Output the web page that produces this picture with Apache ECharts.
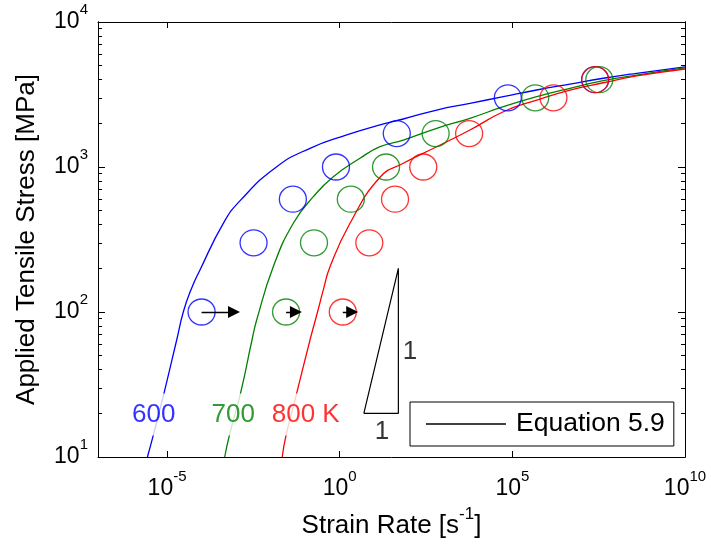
<!DOCTYPE html>
<html>
<head>
<meta charset="utf-8">
<script src="https://cdn.jsdelivr.net/npm/echarts@6/dist/echarts.min.js"></script>
<style>
html, body { margin: 0; padding: 0; background: #ffffff; }
#chart { width: 711px; height: 552px; }
</style>
</head>
<body>
<div id="chart"></div>
<script>
// Measured creep-rupture points: applied stress (MPa) vs. strain rate (1/s)
const stressLevels = [100, 300, 600, 1000, 1700, 3000, 4000];
const rate600 = [1e-4, 3.2e-3, 4.4e-2, 0.78, 45, 7.4e4, 2.5e7];
const rate700 = [2.8e-2, 0.18, 2.1, 22, 600, 4.6e5, 3.3e7];
const rate800 = [1.23, 7.2, 40, 263, 5600, 1.55e6, 2.5e7];

// Equation 5.9 curves, sampled along each temperature
const eqRate600 = [2.70e-6, 4.02e-6, 8.20e-6, 1.90e-5, 2.95e-5, 4.9e-5, 8.99e-5, 4.26e-4, 1.35e-3, 1.50e-2,
  0.138, 1.60, 14.7, 69.5, 644, 5930, 5.47e4, 5.07e5, 4.68e6, 4.31e7, 3.99e8, 1e10];
const eqStress600 = [10, 14.2, 27.7, 64.1, 100, 142, 195, 409, 591, 1005,
  1346, 1663, 1950, 2143, 2472, 2748, 3055, 3396, 3733, 4093, 4426, 4898];

const eqRate700 = [4.67e-4, 6.43e-4, 1.35e-3, 2.88e-3, 3.94e-3, 1.19e-2, 4.53e-2, 0.172, 0.652,
  3.87, 14.7, 69.5, 644, 5930, 5.47e4, 5.07e5, 4.68e6, 4.31e7, 3.99e8, 1e10];
const eqStress700 = [10, 14.2, 27.7, 64.1, 88.1, 205, 409, 624, 857,
  1148, 1380, 1535, 1849, 2168, 2606, 3055, 3491, 3936, 4305, 4819];

const eqRate800 = [2.16e-2, 2.81e-2, 5.71e-2, 0.138, 0.228, 0.335, 0.524, 1.99, 14.7, 69.5,
  644, 5930, 5.47e4, 5.07e5, 4.68e6, 4.31e7, 3.99e8, 1e10];
const eqStress800 = [10, 14.2, 27.7, 64.1, 100, 142, 205, 409, 850, 1062,
  1380, 1799, 2404, 2897, 3396, 3811, 4246, 4742];

// Arrows at 100 MPa (from data point towards higher rate)
const arrowStartRate = [1e-4, 2.8e-2, 1.23];
const arrowEndRate = [8.7e-4, 5.4e-2, 2.3];
const arrowStress = 100;

// Slope-one reference triangle
const slopeRate = [5.0, 50, 50, 5.0];
const slopeStress = [20, 20, 200, 20];
const slopeLabelRate = [108, 16.8];
const slopeLabelStress = [53, 14.9];
const slopeLabelText = ['1', '1'];

// Temperature labels
const tempLabelText = ['600', '700', '800 K'];
const tempLabelRate = [4.12e-6, 8.22e-4, 0.1035];
const tempLabelStress = 19.6;

// Axis ticks
const xTickValues = [1e-5, 1, 1e5, 1e10];
const xTickExponents = ['-5', '0', '5', '10'];
const yTickValues = [10, 100, 1000, 10000];
const yTickExponents = ['1', '2', '3', '4'];
const yMinorTicks = [20, 30, 40, 50, 60, 70, 80, 90, 200, 300, 400, 500, 600, 700, 800, 900,
  2000, 3000, 4000, 5000, 6000, 7000, 8000, 9000];

const FONT = "'Liberation Sans', Arial, Helvetica, sans-serif";
const BLUE = '#0000ff', GREEN = '#008000', RED = '#ff0000';

function pairs(xs, ys) { return xs.map((x, i) => [x, ys[i]]); }

function expLabel(values, exps) {
  return function (v) {
    let best = 0, bd = Infinity;
    values.forEach((t, i) => {
      const d = Math.abs(Math.log10(t) - Math.log10(v));
      if (d < bd) { bd = d; best = i; }
    });
    return '{b|10}{s|' + exps[best] + '}';
  };
}
const powRich = {
  b: { fontFamily: FONT, fontSize: 23, lineHeight: 40, color: '#000' },
  s: { fontFamily: FONT, fontSize: 15, lineHeight: 15, verticalAlign: 'top', color: '#000' }
};

const axisLineStyle = { color: '#000', width: 1 };

function xAxisDef(pos, labelled) {
  return {
    type: 'log', logBase: 10, min: 1e-7, max: 1e10, position: pos,
    axisLine: { show: true, onZero: false, lineStyle: axisLineStyle },
    axisTick: { show: true, inside: true, length: 6, customValues: xTickValues, lineStyle: axisLineStyle },
    axisLabel: labelled ? {
      show: true, customValues: xTickValues, margin: 12,
      formatter: expLabel(xTickValues, xTickExponents), rich: powRich
    } : { show: false },
    splitLine: { show: false },
    minorTick: { show: false },
    name: labelled ? '{t|Strain Rate [s}{e|-1}{t|]}' : '',
    nameLocation: 'middle', nameGap: 47,
    nameTextStyle: {
      rich: {
        t: { fontFamily: FONT, fontSize: 26, lineHeight: 40, color: '#000' },
        e: { fontFamily: FONT, fontSize: 17, lineHeight: 17, verticalAlign: 'top', color: '#000' }
      }
    }
  };
}

function yAxisDef(pos, major, labelled) {
  return {
    type: 'log', logBase: 10, min: 10, max: 10000, position: pos,
    axisLine: { show: true, onZero: false, lineStyle: axisLineStyle },
    axisTick: {
      show: true, inside: true, length: major ? 7 : 4,
      customValues: major ? yTickValues : yMinorTicks, lineStyle: axisLineStyle
    },
    axisLabel: labelled ? {
      show: true, customValues: yTickValues, margin: 10,
      formatter: expLabel(yTickValues, yTickExponents), rich: powRich
    } : { show: false },
    splitLine: { show: false },
    minorTick: { show: false },
    name: labelled ? 'Applied Tensile Stress [MPa]' : '',
    nameLocation: 'middle', nameGap: 58,
    nameTextStyle: { fontFamily: FONT, fontSize: 26, color: '#000' }
  };
}

function curve(name, color, xs, ys) {
  return {
    type: 'line', name: name, data: pairs(xs, ys),
    showSymbol: false, symbol: 'none', smooth: 0.5,
    lineStyle: { color: color, width: 1.3 }, z: 3, silent: true
  };
}
function markers(color, xs) {
  return {
    type: 'scatter', data: pairs(xs, stressLevels),
    symbol: 'circle', symbolSize: [27, 26],
    itemStyle: { color: 'rgba(0,0,0,0)', borderColor: color, borderWidth: 1.3 },
    z: 4, silent: true
  };
}

const chart = echarts.init(document.getElementById('chart'), null, { renderer: 'canvas' });

const option = {
  animation: false,
  backgroundColor: '#ffffff',
  grid: { left: 98, right: 26, top: 22, bottom: 95, containLabel: false },
  xAxis: [xAxisDef('bottom', true), xAxisDef('top', false)],
  yAxis: [yAxisDef('left', true, true), yAxisDef('left', false, false),
          yAxisDef('right', true, false), yAxisDef('right', false, false)],
  legend: {
    left: 410, top: 402, orient: 'horizontal',
    data: ['Equation 5.9'],
    icon: 'rect',
    backgroundColor: '#ffffff', borderColor: '#000', borderWidth: 1, borderRadius: 0,
    padding: [7, 9, 7, 16], itemWidth: 80, itemHeight: 1.3,
    textStyle: { fontFamily: FONT, fontSize: 26.5, lineHeight: 28, color: '#000', padding: [2, 0, 0, 5] },
    selectedMode: false
  },
  series: [
    curve('600 K', BLUE, eqRate600, eqStress600),
    curve('700 K', GREEN, eqRate700, eqStress700),
    curve('800 K', RED, eqRate800, eqStress800),
    markers(BLUE, rate600),
    markers(GREEN, rate700),
    markers(RED, rate800),
    {
      type: 'line', name: 'Equation 5.9', data: [], symbol: 'none',
      lineStyle: { color: '#000', width: 1.3 }, itemStyle: { color: '#000' }
    },
    {
      type: 'lines', coordinateSystem: 'cartesian2d', z: 5, silent: true,
      symbol: ['none', 'triangle'], symbolSize: 12,
      lineStyle: { color: '#000', width: 1.3, opacity: 1 },
      itemStyle: { color: '#000' },
      data: arrowStartRate.map((x, i) => ({ coords: [[x, arrowStress], [arrowEndRate[i], arrowStress]] }))
    },
    {
      type: 'line', data: pairs(slopeRate, slopeStress), symbol: 'none', smooth: false,
      lineStyle: { color: '#000', width: 1.2 }, z: 3, silent: true
    },
    {
      type: 'scatter', symbol: 'circle', symbolSize: 1, z: 6, silent: true,
      itemStyle: { color: 'rgba(0,0,0,0)' },
      data: slopeLabelRate.map((x, i) => ({ value: [x, slopeLabelStress[i]], name: slopeLabelText[i] })),
      label: {
        show: true, position: 'inside', formatter: '{b}',
        fontFamily: FONT, fontSize: 26, color: '#000'
      }
    },
    {
      type: 'scatter', symbol: 'circle', symbolSize: 1, z: 6, silent: true,
      itemStyle: { color: 'rgba(0,0,0,0)' },
      data: tempLabelRate.map((x, i) => ({
        value: [x, tempLabelStress], name: tempLabelText[i],
        label: { color: [BLUE, GREEN, RED][i] }
      })),
      label: {
        show: true, position: 'inside', formatter: '{b}',
        fontFamily: FONT, fontSize: 26, backgroundColor: '#ffffff', padding: [8, 3]
      }
    }
  ]
};

chart.setOption(option);
</script>
</body>
</html>
